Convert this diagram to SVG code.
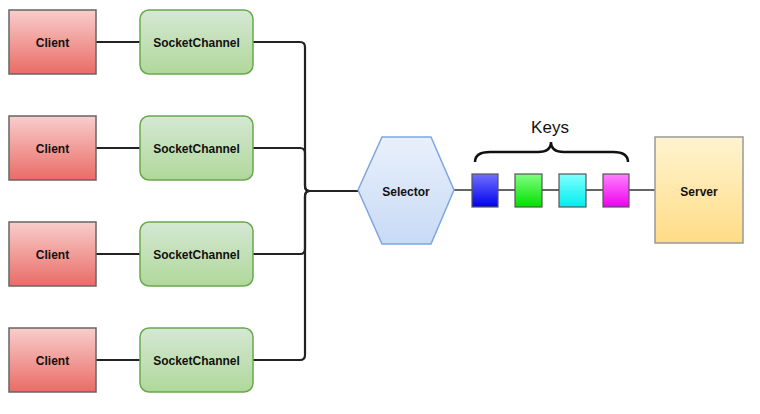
<svg xmlns="http://www.w3.org/2000/svg" width="760" height="414" viewBox="0 0 760 414">
<defs>
<linearGradient id="gRed" x1="0" y1="0" x2="0" y2="1"><stop offset="0" stop-color="#f8cecc"/><stop offset="1" stop-color="#ea6b66"/></linearGradient>
<linearGradient id="gGreen" x1="0" y1="0" x2="0" y2="1"><stop offset="0" stop-color="#d5e8d4"/><stop offset="1" stop-color="#b0d89a"/></linearGradient>
<linearGradient id="gBlue" x1="0" y1="0" x2="0" y2="1"><stop offset="0" stop-color="#e9f0fb"/><stop offset="1" stop-color="#c8daf6"/></linearGradient>
<linearGradient id="gYellow" x1="0" y1="0" x2="0" y2="1"><stop offset="0" stop-color="#fff4d1"/><stop offset="1" stop-color="#ffdc85"/></linearGradient>
<linearGradient id="k1" x1="0" y1="0" x2="0" y2="1"><stop offset="0" stop-color="#7070ff"/><stop offset="1" stop-color="#0000ee"/></linearGradient>
<linearGradient id="k2" x1="0" y1="0" x2="0" y2="1"><stop offset="0" stop-color="#80ff80"/><stop offset="1" stop-color="#00e000"/></linearGradient>
<linearGradient id="k3" x1="0" y1="0" x2="0" y2="1"><stop offset="0" stop-color="#80ffff"/><stop offset="1" stop-color="#00eeee"/></linearGradient>
<linearGradient id="k4" x1="0" y1="0" x2="0" y2="1"><stop offset="0" stop-color="#ff80ff"/><stop offset="1" stop-color="#ee00ee"/></linearGradient>
</defs>
<style>
.client{fill:url(#gRed);stroke:#666;stroke-width:1.5}
.chan{fill:url(#gGreen);stroke:#6aa84f;stroke-width:1.5}
.lbl{font-family:"Liberation Sans",Arial,sans-serif;font-size:12px;font-weight:bold;fill:#111;text-anchor:middle;dominant-baseline:central}
.wire{fill:none;stroke:#222;stroke-width:2.2}
.thin{fill:none;stroke:#333;stroke-width:1.5}
.key{stroke:#555;stroke-width:1.2}
</style>
<rect width="760" height="414" fill="#fff"/>
<g id="connectors">
<path class="wire" d="M96,42H140M96,148H140M96,254H140M96,360H140"/>
<path class="wire" d="M253,42H300Q305,42 305,47V186Q305,191 310,191H358"/>
<path class="wire" d="M253,148H300Q305,148 305,153V186Q305,191 310,191"/>
<path class="wire" d="M253,254H300Q305,254 305,249V196Q305,191 310,191"/>
<path class="wire" d="M253,360H300Q305,360 305,355V196Q305,191 310,191"/>
<path class="thin" d="M454,190H472M498,190H515M542,190H559M586,190H603M629,190H655"/>
</g>
<g id="client1"><rect class="client" x="9" y="10" width="87" height="64"/><text class="lbl" x="52.5" y="43">Client</text></g>
<g id="client2"><rect class="client" x="9" y="116" width="87" height="64"/><text class="lbl" x="52.5" y="149">Client</text></g>
<g id="client3"><rect class="client" x="9" y="222" width="87" height="64"/><text class="lbl" x="52.5" y="255">Client</text></g>
<g id="client4"><rect class="client" x="9" y="328" width="87" height="64"/><text class="lbl" x="52.5" y="361">Client</text></g>
<g id="channel1"><rect class="chan" x="140" y="10" width="113" height="64" rx="9"/><text class="lbl" x="196.5" y="43">SocketChannel</text></g>
<g id="channel2"><rect class="chan" x="140" y="116" width="113" height="64" rx="9"/><text class="lbl" x="196.5" y="149">SocketChannel</text></g>
<g id="channel3"><rect class="chan" x="140" y="222" width="113" height="64" rx="9"/><text class="lbl" x="196.5" y="255">SocketChannel</text></g>
<g id="channel4"><rect class="chan" x="140" y="328" width="113" height="64" rx="9"/><text class="lbl" x="196.5" y="361">SocketChannel</text></g>
<g id="selector"><polygon points="358,190 382,137 431,137 454,190 431,244 382,244" fill="url(#gBlue)" stroke="#7ea6e0" stroke-width="1.5"/><text class="lbl" x="406" y="192">Selector</text></g>
<g id="keys">
<rect class="key" x="472" y="174" width="26" height="33" fill="url(#k1)"/>
<rect class="key" x="515" y="174" width="27" height="33" fill="url(#k2)"/>
<rect class="key" x="559" y="174" width="27" height="33" fill="url(#k3)"/>
<rect class="key" x="603" y="174" width="26" height="33" fill="url(#k4)"/>
<path d="M475,162Q475,152 490,152H538Q551,152 551,142Q551,152 564,152H613Q628,152 628,162" fill="none" stroke="#111" stroke-width="2.5"/>
<text x="550" y="133" font-family="'Liberation Sans',Arial,sans-serif" font-size="17" fill="#111" text-anchor="middle">Keys</text>
</g>
<g id="server"><rect x="655" y="137" width="88" height="106" fill="url(#gYellow)" stroke="#999" stroke-width="1.5"/><text class="lbl" x="699" y="192">Server</text></g>
</svg>
